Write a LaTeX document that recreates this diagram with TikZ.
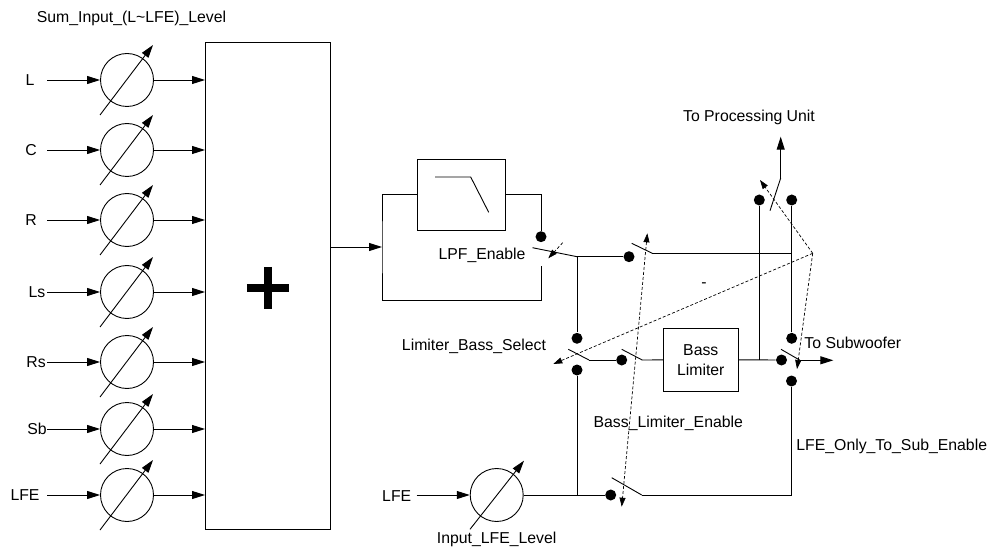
\documentclass[tikz,border=0pt]{standalone}
\usepackage{fontspec}
\setmainfont{Liberation Sans}
\usetikzlibrary{arrows.meta, positioning, calc}

\begin{document}
\begin{tikzpicture}[
        x=1pt, y=-1pt, line width=0.9pt,
        font=\fontsize{15.8}{20}\selectfont,
        sig/.style={-{Triangle[length=13pt, width=8pt]}},
        ctl/.style={dash pattern=on 3pt off 2pt, line width=0.7pt, >={Triangle[length=9pt, width=6pt]}},
        gain/.style={circle, draw, minimum size=53pt, inner sep=0pt},
        blk/.style={rectangle, draw, inner sep=0pt},
        contact/.style={circle, fill, inner sep=0pt, minimum size=11pt}
    ]
        \useasboundingbox (0,0) rectangle (998,553);
        \node (title) at (131.5,18) {Sum\_Input\_(L\textasciitilde LFE)\_Level};
        \node[blk, minimum width=125pt, minimum height=487pt, anchor=north west] (sum) at (205,42) {};
        \foreach \ch/\lab/\y/\lx in {l/L/80/30, c/C/150/31, r/R/220/31, ls/Ls/292/37, rs/Rs/362/36, sb/Sb/429/37, lfe/LFE/495/25} {
            \node (lab\ch) at (\lx,\y) {\lab};
            \coordinate (src\ch) at (47,\y);
            \node[gain] (g\ch) at (127,\y) {};
            \draw[sig] (src\ch) -- (g\ch);
            \draw[sig] (g\ch) -- (sum.west |- g\ch);
            \draw[sig] ([shift={(-27,35)}]g\ch.center) -- ([shift={(26,-35)}]g\ch.center);
        }
        \coordinate (plus) at ([shift={(0,2)}]sum.center);
        \draw[line width=8pt] ([shift={(-21,0)}]plus) -- ([shift={(21,0)}]plus)
            ([shift={(0,-21)}]plus) -- ([shift={(0,21)}]plus);

        \coordinate (mixout) at (330,247);
        \coordinate (split) at (382,247);
        \draw[sig] (mixout) -- (split);
        \node[blk, minimum width=88pt, minimum height=71pt] (lpf) at (461.7,194.7) {};
        \draw ([shift={(-26.7,-17.7)}]lpf.center) -- ++(35.7,0) -- ++(18,35.3);
        \node[contact] (lpfon) at (541,236.7) {};
        \coordinate (lpfoff) at (541,266);
        \coordinate (lpfpiv) at (577,256.7);
        \draw (lpf.west) -| (split) |- (lpfoff |- 0,300) -- (lpfoff);
        \draw (lpf.east) -| (lpfon);
        \draw (lpfpiv) -- ++(-44.5,-9);
        \draw[ctl, ->] (562.7,242.7) -- (548.3,258.3);
        \node (lpflab) at (482,255) {LPF\_Enable};

        \node[contact] (bleon) at (629,256.7) {};
        \node[contact] (lbsup) at (577,338.3) {};
        \draw (bleon) -- (lpfpiv) -- (lbsup);
        \node[contact] (puL) at (759.3,200) {};
        \node[contact] (puR) at (791.7,200) {};
        \node[contact] (subup) at (791.7,338.3) {};
        \coordinate (blepiv) at (652.3,253.3);
        \draw (blepiv) -- ++(-20.6,-10);
        \draw (blepiv) -- (blepiv -| puR);
        \draw (puR) -- (subup);
        \coordinate (pupiv) at (780.7,178);
        \coordinate (puout) at (780.7,136.7);
        \draw (770,210.7) -- (pupiv);
        \draw[sig] (pupiv) -- (puout);
        \node (pulab) at (749,117) {To Processing Unit};

        \node[contact] (lbsdn) at (577,370) {};
        \coordinate (lbspiv) at (589,360);
        \draw (lbspiv) -- ++(-20.7,-10.7);
        \node[contact] (bleon2) at (621.7,360) {};
        \draw (lbspiv) -- (bleon2);
        \node[blk, minimum width=75pt, minimum height=63pt, align=center] (limiter) at (700.8,359.7) {Bass\\Limiter};
        \coordinate (blepiv2) at (642.2,360);
        \draw (blepiv2) -- ++(-20.5,-10.7);
        \draw (blepiv2) -- (limiter);
        \node[contact] (subin) at (781.5,360) {};
        \draw (limiter) -- (subin);
        \draw (puL) -- (puL |- subin);
        \coordinate (subpiv) at (800,360.3);
        \coordinate (subout) at (833.3,360.3);
        \draw (subpiv) -- ++(-19,-11);
        \draw[sig] (subpiv) -- (subout);
        \node[contact] (subdn) at (791.5,381) {};
        \node[anchor=west, inner sep=1pt] (sublab) at (803,343) {To Subwoofer};

        \node (lfelab) at (396.7,496) {LFE};
        \coordinate (lfesrc) at (416.7,495);
        \node[gain] (glfein) at (496.7,495) {};
        \draw[sig] (lfesrc) -- (glfein);
        \draw[sig] ([shift={(-26.7,34.3)}]glfein.center) -- ([shift={(27.3,-34.3)}]glfein.center);
        \node[below=6pt of glfein] (lfelevel) {Input\_LFE\_Level};
        \node[contact] (ble3on) at (610.7,495) {};
        \draw (glfein) -- (ble3on);
        \draw (lbsdn) -- (lbsdn |- ble3on);
        \coordinate (ble3piv) at (641.7,495);
        \draw (ble3piv) -- ++(-30,-17.3);
        \draw (ble3piv) -| (subdn);

        \draw[ctl, <->] (647.3,233.3) -- (621.7,506.7);
        \coordinate (hub) at (812.7,253.3);
        \draw[ctl, ->] (hub) -- (760,180);
        \draw[ctl, ->] (hub) -- (797,369);
        \draw[ctl, ->] (hub) -- (553.3,364);
        \node (minus) at (704,285) {-};

        \node (lbslab) at (474,346.7) {Limiter\_Bass\_Select};
        \node (blelab) at (668.3,423.3) {Bass\_Limiter\_Enable};
        \node[anchor=west, inner sep=1pt] (lfesublab) at (795,446.7) {LFE\_Only\_To\_Sub\_Enable};
    \end{tikzpicture}
\end{document}
